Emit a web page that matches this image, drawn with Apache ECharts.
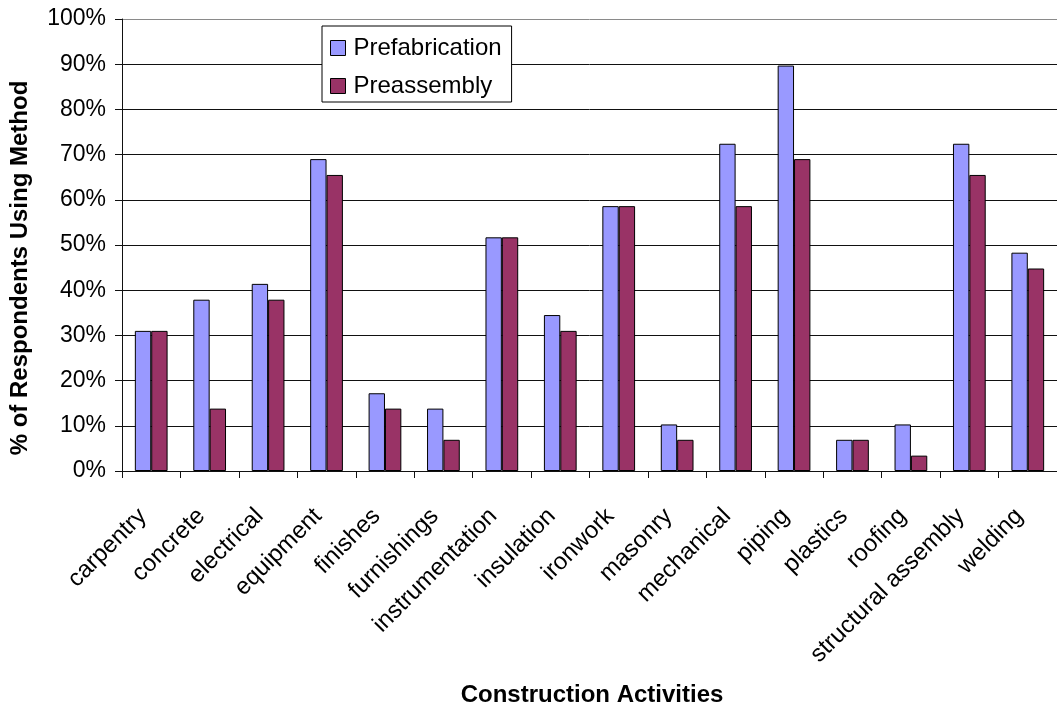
<!DOCTYPE html>
<html>
<head>
<meta charset="utf-8">
<title>Prefabrication and Preassembly by Construction Activity</title>
<script src="https://cdn.jsdelivr.net/npm/echarts@6/dist/echarts.min.js"></script>
<style>
  html, body { margin: 0; padding: 0; background: #fff; }
  #chart { width: 1057px; height: 708px; }
</style>
</head>
<body>
<div id="chart"></div>
<script>
// Construction activities surveyed
const categories = [
  'carpentry', 'concrete', 'electrical', 'equipment', 'finishes',
  'furnishings', 'instrumentation', 'insulation', 'ironwork', 'masonry',
  'mechanical', 'piping', 'plastics', 'roofing', 'structural assembly', 'welding'
];

// Share of respondents using each method (%)
const prefabrication = [31.0, 37.9, 41.4, 69.0, 17.2, 13.8, 51.7, 34.5, 58.6, 10.3, 72.4, 89.7, 6.9, 10.3, 72.4, 48.3];
const preassembly    = [31.0, 13.8, 37.9, 65.5, 13.8,  6.9, 51.7, 31.0, 58.6,  6.9, 58.6, 69.0, 6.9,  3.4, 65.5, 44.8];

const seriesNames = ['Prefabrication', 'Preassembly'];
const seriesColors = ['#9999FF', '#993366'];

const yTitle = '% of Respondents Using Method';
const xTitle = 'Construction Activities';

const FONT = '"Liberation Sans", Arial, Helvetica, sans-serif';

const chart = echarts.init(document.getElementById('chart'), null, { renderer: 'canvas' });

const gridLeft = 122, gridTop = 19, gridWidth = 940, gridHeight = 452;

// gridlines: dark inside the plot, lighter along the top edge
const splitColors = [];
for (let i = 0; i < 10; i++) splitColors.push('#111');
splitColors.push('#8a8a8a');

chart.setOption({
  backgroundColor: '#ffffff',
  animation: false,
  textStyle: { fontFamily: FONT, color: '#000' },
  grid: { left: gridLeft, top: gridTop, width: gridWidth, height: gridHeight, containLabel: false },
  legend: {
    orient: 'vertical',
    left: 322,
    top: 26,
    padding: [10, 10, 4, 8],
    itemWidth: 15,
    itemHeight: 15,
    itemGap: 14,
    icon: 'rect',
    backgroundColor: '#ffffff',
    borderColor: '#000',
    borderWidth: 1,
    borderRadius: 0,
    itemStyle: { borderColor: '#000', borderWidth: 1 },
    textStyle: { fontFamily: FONT, fontSize: 24, color: '#000', lineHeight: 24, padding: [0, 0, 0, 3] },
    data: seriesNames
  },
  xAxis: {
    type: 'category',
    data: categories,
    boundaryGap: true,
    axisLine: { show: true, lineStyle: { color: '#111', width: 1 } },
    axisTick: { show: true, length: 7, inside: false, alignWithLabel: false, lineStyle: { color: '#111' } },
    axisLabel: {
      interval: 0,
      rotate: 45,
      margin: 33,
      padding: [0, 12, 0, 0],
      fontFamily: FONT,
      fontSize: 24,
      color: '#000'
    },
    splitLine: { show: false }
  },
  yAxis: {
    type: 'value',
    min: 0,
    max: 100,
    interval: 10,
    axisLine: { show: true, lineStyle: { color: '#111', width: 1 } },
    axisTick: { show: true, length: 7, inside: false, lineStyle: { color: '#111' } },
    axisLabel: { formatter: '{value}%', margin: 16, fontFamily: FONT, fontSize: 23, color: '#000' },
    splitLine: { show: true, lineStyle: { color: splitColors, width: 1 } }
  },
  series: [
    {
      name: seriesNames[0],
      type: 'bar',
      data: prefabrication,
      barGap: '0%',
      barCategoryGap: '44%',
      itemStyle: { color: seriesColors[0], borderColor: '#000', borderWidth: 1 }
    },
    {
      name: seriesNames[1],
      type: 'bar',
      data: preassembly,
      barGap: '0%',
      barCategoryGap: '44%',
      itemStyle: { color: seriesColors[1], borderColor: '#000', borderWidth: 1 }
    }
  ],
  graphic: [
    {
      type: 'text',
      x: 20,
      y: 268,
      rotation: Math.PI / 2,
      style: {
        text: yTitle,
        font: 'bold 24px ' + FONT,
        fill: '#000',
        align: 'center',
        verticalAlign: 'middle'
      }
    },
    {
      type: 'text',
      x: 592,
      y: 695,
      style: {
        text: xTitle,
        font: 'bold 24px ' + FONT,
        fill: '#000',
        align: 'center',
        verticalAlign: 'middle'
      }
    }
  ]
});
</script>
</body>
</html>
